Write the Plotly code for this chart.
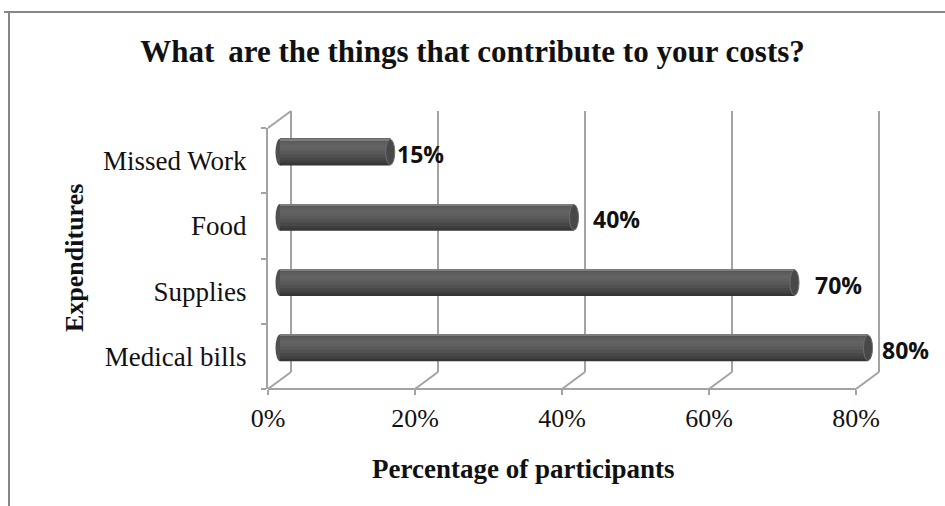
import plotly.graph_objects as go

# ---------------- data ----------------
categories = ["Medical bills", "Supplies", "Food", "Missed Work"]   # bottom -> top
values = [0.80, 0.70, 0.40, 0.15]
value_labels = ["80%", "70%", "40%", "15%"]
x_tickvals = [0, 0.2, 0.4, 0.6, 0.8]
x_ticktext = ["0%", "20%", "40%", "60%", "80%"]
title_text = "What\u2009 are the things that contribute to your costs?"
x_title = "Percentage of participants"
y_title = "Expenditures"

# ---------------- geometry (pixels) ----------------
W, H = 945, 506
L, T, B = 268, 128, 389                  # front plane of the 3-D box
R_front = 856                            # pixel of the last tick (80%)
RP = 940                                 # right edge of plotting area (room for labels)
pw, ph = RP - L, B - T
DX, DY = 23, 17                          # depth offset of the back walls
MX, MY = 12, 8.5                         # mid-depth offset (bars)
xmax = 0.8
ux = xmax / (R_front - L)                # data units per pixel (x)
xrange_max = ux * pw
ncat = len(categories)
uy = ncat / ph                           # category units per pixel (y)

def px(x):   # pixel -> paper x
    return (x - L) / pw

def py(y):   # pixel -> paper y
    return (B - y) / ph

dxp, dyp = DX / pw, DY / ph

GRID = "#a3a3a3"
SERIF = "Liberation Serif"

fig = go.Figure()

# invisible trace so the front (labelled) axes are drawn
fig.add_trace(go.Scatter(x=values, y=categories, mode="markers",
                         marker=dict(opacity=0), hoverinfo="skip", showlegend=False))

# cylinder-like shading using overlapping layers (bottom -> top)
BW = 0.41
stripes = [
    (0.00, "#353535"),
    (0.08, "#3f3f3f"),
    (0.18, "#484848"),
    (0.30, "#515151"),
    (0.42, "#595959"),
    (0.54, "#5f5f5f"),
    (0.66, "#636363"),
    (0.78, "#5e5e5e"),
    (0.88, "#585858"),
    (0.95, "#7d7d7d"),
]
for a, c in stripes:
    fig.add_trace(go.Bar(
        x=values, y=categories, orientation="h",
        xaxis="x2", yaxis="y2",
        width=(1 - a) * BW, offset=-BW / 2 + a * BW,
        marker=dict(color=c, line=dict(width=0)),
        hoverinfo="skip", showlegend=False,
    ))

shapes = []
# front floor edge
shapes.append(dict(type="line", xref="x", yref="paper", x0=0, x1=xmax, y0=0, y1=0,
                   line=dict(color=GRID, width=2), layer="below"))
# back wall vertical gridlines + floor diagonals
for v in x_tickvals:
    xp = v / xrange_max
    shapes.append(dict(type="line", xref="paper", yref="paper",
                       x0=xp + dxp, x1=xp + dxp, y0=dyp, y1=1 + dyp,
                       line=dict(color=GRID, width=2), layer="below"))
    shapes.append(dict(type="line", xref="paper", yref="paper",
                       x0=xp, x1=xp + dxp, y0=0, y1=dyp,
                       line=dict(color=GRID, width=2), layer="below"))
# left wall top diagonal
shapes.append(dict(type="line", xref="paper", yref="paper",
                   x0=0, x1=dxp, y0=1, y1=1 + dyp,
                   line=dict(color=GRID, width=2), layer="below"))
# outer chart frame (top and left edges)
shapes.append(dict(type="line", xref="paper", yref="paper",
                   x0=px(4), x1=px(W + 5), y0=py(12), y1=py(12),
                   line=dict(color="#868686", width=2)))
shapes.append(dict(type="line", xref="paper", yref="paper",
                   x0=px(9), x1=px(9), y0=py(12), y1=py(H + 10),
                   line=dict(color="#868686", width=2)))

# rounded ends of the cylinders
capw = 9 * ux
for i, v in enumerate(values):
    shapes.append(dict(type="circle", xref="x2", yref="y2",
                       x0=-capw / 2, x1=capw / 2, y0=i - BW / 2, y1=i + BW / 2,
                       fillcolor="#505050", line=dict(width=0), layer="below"))
    shapes.append(dict(type="circle", xref="x2", yref="y2",
                       x0=v - capw / 2, x1=v + capw / 2, y0=i - BW / 2 + 0.01, y1=i + BW / 2 - 0.01,
                       fillcolor="#484848", line=dict(color="#6e6e6e", width=1), layer="above"))

annotations = []
label_shift = [12, 18, 17, 5]
for i, (v, t) in enumerate(zip(values, value_labels)):
    annotations.append(dict(x=v, y=i, xref="x2", yref="y2", text=f"<b>{t}</b>",
                            showarrow=False, xanchor="left", yanchor="middle",
                            xshift=label_shift[i], yshift=-2,
                            font=dict(family="Open Sans", size=23, color="#111")))
# axis titles
annotations.append(dict(x=px(523), y=py(469), xref="paper", yref="paper",
                        xanchor="center", yanchor="middle",
                        text=f"<b>{x_title}</b>", showarrow=False,
                        font=dict(family=SERIF, size=27, color="#111")))
annotations.append(dict(x=px(74), y=py(258), xref="paper", yref="paper",
                        xanchor="center", yanchor="middle",
                        text=f"<b>{y_title}</b>", showarrow=False, textangle=-90,
                        font=dict(family=SERIF, size=26, color="#111")))

fig.update_layout(
    width=W, height=H,
    margin=dict(l=L, r=W - RP, t=T, b=H - B, pad=0),
    paper_bgcolor="white", plot_bgcolor="rgba(0,0,0,0)",
    barmode="overlay", showlegend=False,
    title=dict(text=f"<b>{title_text}</b>", x=0.5, xanchor="center",
               y=1 - 51 / H, yanchor="middle",
               font=dict(family=SERIF, size=31, color="#111")),
    xaxis=dict(domain=[0, 1], range=[0, xrange_max], tickvals=x_tickvals, ticktext=x_ticktext,
               showgrid=False, zeroline=False, showline=False,
               ticks="outside", ticklen=5, tickcolor=GRID, tickwidth=2,
               ticklabelstandoff=1,
               tickfont=dict(family=SERIF, size=26, color="#111"), fixedrange=True),
    yaxis=dict(domain=[0, 1], type="category", categoryorder="array", categoryarray=categories,
               range=[-0.5, ncat - 0.5], showgrid=False, zeroline=False,
               showline=True, linecolor=GRID, linewidth=2,
               ticks="outside", ticklen=5, tickcolor=GRID, tickwidth=2, tickson="boundaries",
               ticklabelstandoff=14,
               tickfont=dict(family=SERIF, size=27, color="#111"), fixedrange=True),
    xaxis2=dict(overlaying="x", anchor="y2", domain=[0, 1],
                range=[-MX * ux, xrange_max - MX * ux], visible=False, fixedrange=True),
    yaxis2=dict(overlaying="y", anchor="x2", domain=[0, 1], type="category",
                categoryorder="array", categoryarray=categories,
                range=[-0.5 - MY * uy, ncat - 0.5 - MY * uy], visible=False, fixedrange=True),
    shapes=shapes, annotations=annotations,
)

fig.write_html("out.html", config={"displayModeBar": False},
               post_script="document.body.style.margin='0';")
